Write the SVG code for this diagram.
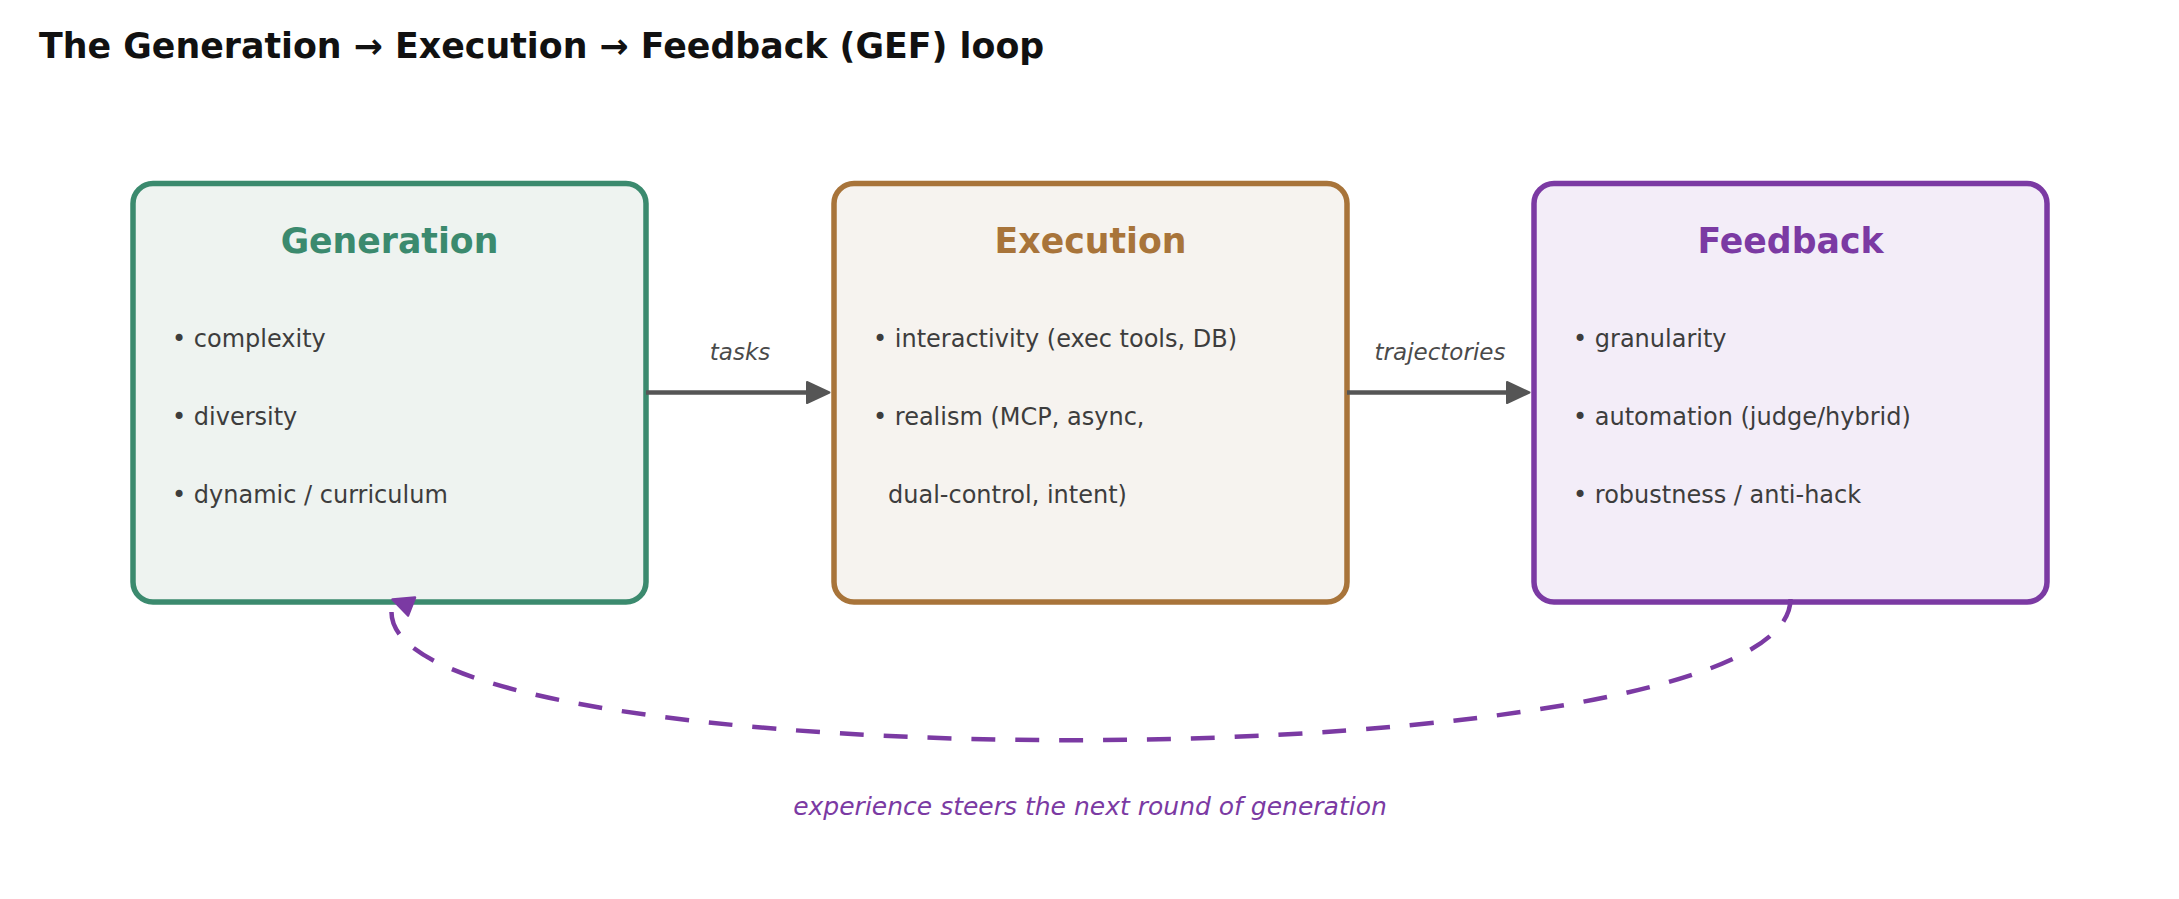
<svg xmlns="http://www.w3.org/2000/svg" width="2179" height="899" viewBox="0 0 2179 899">
  <style>
    text { font-family: "DejaVu Sans", "Liberation Sans", sans-serif; }
    .title { font-size: 34.8px; font-weight: bold; fill: #111111; }
    .box { stroke-width: 5.5; }
    .hdr { font-size: 34.7px; font-weight: bold; text-anchor: middle; }
    .item { font-size: 24px; fill: #3d3d3d; }
    .lbl { font-size: 23px; font-style: italic; fill: #4a4a4a; text-anchor: middle; }
    .flow { stroke: #555555; stroke-width: 4.5; fill: none; }
    .loop { stroke: #7b3aa3; stroke-width: 4.5; fill: none; stroke-dasharray: 24 20; }
    .loopLbl { font-size: 25px; font-style: italic; fill: #7b3aa3; text-anchor: middle; }
  </style>
  <defs>
    <marker id="head" viewBox="0 0 26 24" refX="10" refY="12" markerWidth="26" markerHeight="24" markerUnits="userSpaceOnUse" orient="auto">
      <path d="M2,1.5 L24.5,12 L2,22.5 Z" fill="#555555" stroke="#555555" stroke-width="2" stroke-linejoin="round"/>
    </marker>
  </defs>
  <rect width="2179" height="899" fill="#ffffff"/>
  <text class="title" x="39" y="58">The Generation → Execution → Feedback (GEF) loop</text>

  <g id="node-generation">
    <rect class="box" x="133" y="183.5" width="513" height="418.5" rx="20" fill="#eef3f0" stroke="#3b8a6e"/>
    <text class="hdr" x="389.5" y="253" fill="#3b8a6e">Generation</text>
    <text class="item" x="172" y="347">• complexity</text>
    <text class="item" x="172" y="425">• diversity</text>
    <text class="item" x="172" y="503">• dynamic / curriculum</text>
  </g>

  <g id="node-execution">
    <rect class="box" x="834" y="183.5" width="513" height="418.5" rx="20" fill="#f6f3ef" stroke="#a8743a"/>
    <text class="hdr" x="1090.5" y="253" fill="#a8743a">Execution</text>
    <text class="item" x="873" y="347">• interactivity (exec tools, DB)</text>
    <text class="item" x="873" y="425">• realism (MCP, async,</text>
    <text class="item" x="888" y="503">dual-control, intent)</text>
  </g>

  <g id="node-feedback">
    <rect class="box" x="1534" y="183.5" width="513" height="418.5" rx="20" fill="#f3edf8" stroke="#7b3aa3"/>
    <text class="hdr" x="1790.5" y="253" fill="#7b3aa3">Feedback</text>
    <text class="item" x="1573" y="347">• granularity</text>
    <text class="item" x="1573" y="425">• automation (judge/hybrid)</text>
    <text class="item" x="1573" y="503">• robustness / anti-hack</text>
  </g>

  <g id="connectors">
    <line class="flow" x1="646" y1="392.5" x2="815" y2="392.5" marker-end="url(#head)"/>
    <text class="lbl" x="740" y="360">tasks</text>
    <line class="flow" x1="1347" y1="392.5" x2="1515" y2="392.5" marker-end="url(#head)"/>
    <text class="lbl" x="1440" y="360">trajectories</text>
    <path class="loop" pathLength="1476" d="M1790.5,599 C1790.5,785 389.5,785 391.5,612"/>
    <polygon points="392.5,599.5 415,597.5 408,615.5" fill="#7b3aa3" stroke="#7b3aa3" stroke-width="2.5" stroke-linejoin="round"/>
    <text class="loopLbl" x="1090" y="815">experience steers the next round of generation</text>
  </g>
</svg>
